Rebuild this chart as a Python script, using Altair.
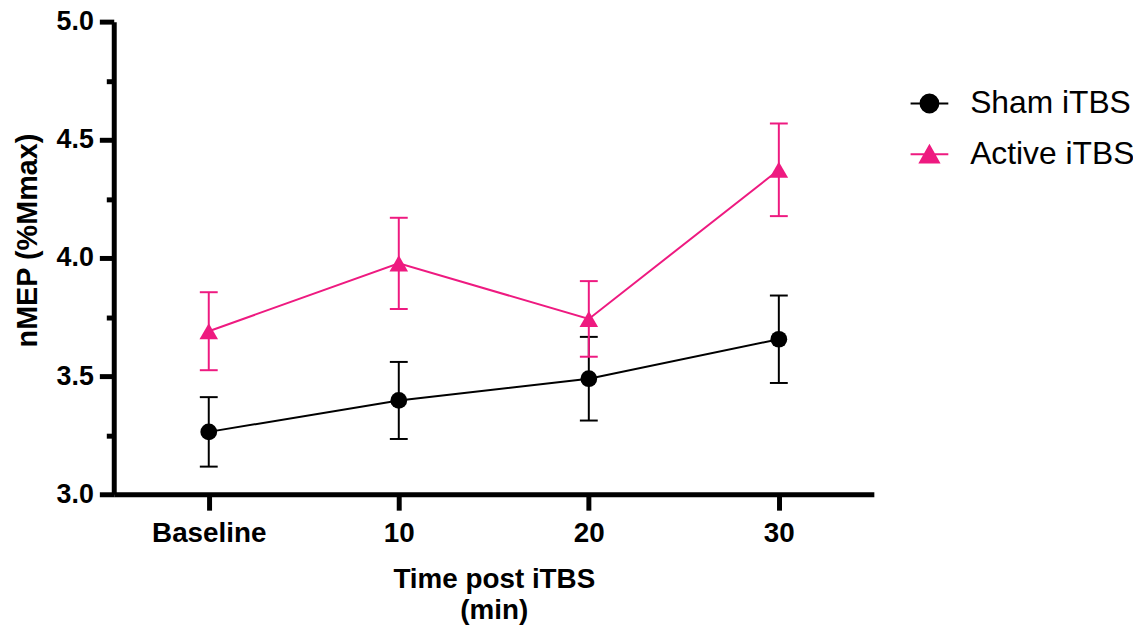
import altair as alt
import pandas as pd

# ---- data ----
times = ["Baseline", "10", "20", "30"]
series_names = ["Sham iTBS", "Active iTBS"]
sham_mean = [3.264, 3.397, 3.489, 3.656]
sham_err = [0.147, 0.163, 0.177, 0.185]
active_mean = [3.690, 3.977, 3.742, 4.373]
active_err = [0.165, 0.193, 0.160, 0.196]
colors = ["#000000", "#EE1A80"]
y_ticks = [3.0, 3.25, 3.5, 3.75, 4.0, 4.25, 4.5, 4.75, 5.0]

rows = []
for name, means, errs in [(series_names[0], sham_mean, sham_err),
                          (series_names[1], active_mean, active_err)]:
    for t, m, e in zip(times, means, errs):
        rows.append({"series": name, "time": t, "mean": m, "lo": m - e, "hi": m + e})
df = pd.DataFrame(rows)

FONT = "Liberation Sans"

x_axis = alt.Axis(
    title=["Time post iTBS", "(min)"], labelAngle=0, labelFont=FONT, labelFontSize=28,
    labelFontWeight="bold", labelColor="black", labelPadding=10,
    tickSize=16, tickWidth=5, tickColor="black", domainWidth=5, domainColor="black",
    titleFont=FONT, titleFontSize=28, titleFontWeight="bold", titleColor="black",
    titlePadding=18, titleLineHeight=31, grid=False,
)
y_axis = alt.Axis(
    title="nMEP (%Mmax)", values=y_ticks,
    labelExpr="datum.value % 0.5 === 0 ? format(datum.value, '.1f') : ''",
    tickSize={"condition": {"test": "datum.value % 0.5 !== 0", "value": 7.5}, "value": 14.5},
    tickWidth=5, tickColor="black", domainWidth=5, domainColor="black",
    labelFont=FONT, labelFontSize=27, labelFontWeight="bold", labelColor="black",
    labelPadding=6, labelOverlap=False,
    titleFont=FONT, titleFontSize=29, titleFontWeight="bold", titleColor="black",
    titleBaseline="middle", titleX=-87, titleY=220, grid=False,
)

x_enc = alt.X("time:N", sort=times,
              scale=alt.Scale(type="point", domain=times, padding=0.5), axis=x_axis)
y_scale = alt.Scale(domain=[3, 5], nice=False, zero=False)


def Y(field):
    return alt.Y(f"{field}:Q", scale=y_scale, axis=y_axis, title="nMEP (%Mmax)")


shapes = {"Sham iTBS": ("circle", 284), "Active iTBS": ("triangle-up", 350)}

layers = []
for name, col in zip(series_names, colors):
    base = alt.Chart(df).transform_filter(alt.datum.series == name)
    layers.append(base.mark_line(color=col, strokeWidth=2).encode(x=x_enc, y=Y("mean")))
    layers.append(base.mark_rule(color=col, strokeWidth=2).encode(x=x_enc, y=Y("lo"), y2="hi:Q"))
    layers.append(base.mark_tick(color=col, thickness=2, size=18, opacity=1).encode(x=x_enc, y=Y("lo")))
    layers.append(base.mark_tick(color=col, thickness=2, size=18, opacity=1).encode(x=x_enc, y=Y("hi")))
    shp, sz = shapes[name]
    layers.append(base.mark_point(filled=True, shape=shp, size=sz, color=col, opacity=1)
                  .encode(x=x_enc, y=Y("mean")))

# legend symbols: marker with a line through it
legend_paths = [
    "M-1.9,0H1.9M0.9,0A0.9,0.9,0,1,1,-0.9,0A0.9,0.9,0,1,1,0.9,0Z",
    "M-1.9,0H1.9M0,-0.85L0.95,0.85L-0.95,0.85Z",
]
leg = alt.Legend(
    title=None, orient="none", legendX=805.5, legendY=66.5, padding=0,
    symbolSize=400, symbolStrokeWidth=2, symbolOpacity=1,
    labelFont=FONT, labelFontSize=32, labelColor="black", labelOffset=25,
    labelLimit=400, rowPadding=19,
)
legend_layer = (
    alt.Chart(df).transform_filter("false")
    .mark_point(filled=True, opacity=1, strokeWidth=2)
    .encode(
        fill=alt.Fill("series:N", scale=alt.Scale(domain=series_names, range=colors), legend=leg),
        stroke=alt.Stroke("series:N", scale=alt.Scale(domain=series_names, range=colors), legend=leg),
        shape=alt.Shape("series:N", scale=alt.Scale(domain=series_names, range=legend_paths), legend=leg),
    )
)
layers.append(legend_layer)

chart = (
    alt.layer(*layers)
    .properties(
        width=765.5, height=476,
        autosize=alt.AutoSizeParams(type="none"),
        padding={"left": 106.5, "top": 11.5, "right": 261, "bottom": 139.5},
        background="white",
    )
    .configure_view(stroke=None)
)

chart.save("out.html", embed_options={"renderer": "svg", "actions": False})
